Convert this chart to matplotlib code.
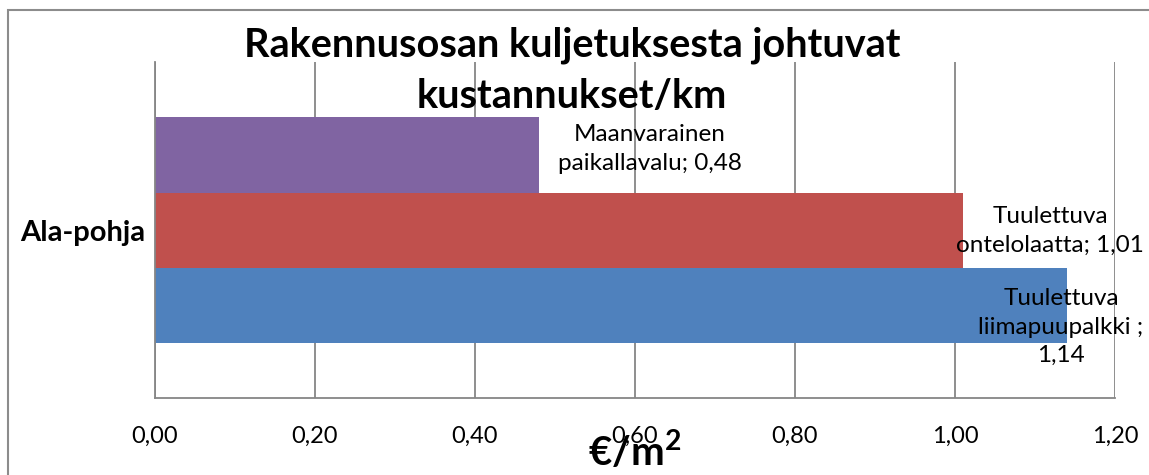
import matplotlib
matplotlib.use('Agg')
import matplotlib.pyplot as plt
from matplotlib.patches import Rectangle

plt.rcParams['font.family'] = ['Lato', 'DejaVu Sans']
plt.rcParams['mathtext.fontset'] = 'custom'
plt.rcParams['mathtext.rm'] = 'Lato'
plt.rcParams['mathtext.bf'] = 'Lato:bold'

title = 'Rakennusosan kuljetuksesta johtuvat\nkustannukset/km'
category = 'Ala-pohja'
# series drawn bottom to top
series_values = [1.14, 1.01, 0.48]
series_colors = ['#4F81BD', '#C0504D', '#8064A2']
label_texts = ['Tuulettuva\nliimapuupalkki ;\n1,14', 'Tuulettuva\nontelolaatta; 1,01', 'Maanvarainen\npaikallavalu; 0,48']
x_ticks = [0.0, 0.2, 0.4, 0.6, 0.8, 1.0, 1.2]

W, H = 1149, 475
fig = plt.figure(figsize=(W / 100, H / 100), dpi=100)

# chart border (runs off the right and bottom edges in the reference)
fig.add_artist(Rectangle((8 / W, -0.1), 1.2, 1 - 10 / H + 0.1, transform=fig.transFigure,
                         fill=False, edgecolor='#8c8c8c', linewidth=1.5))

ax = fig.add_axes([155 / W, 1 - 398 / H, (1115 - 155) / W, (398 - 62) / H])

bar_h = 75 / 336
for i, (val, col) in enumerate(zip(series_values, series_colors)):
    y = (i - 1) * bar_h
    ax.barh(y, val, height=bar_h, color=col, zorder=2)

# data labels, nudged like the Excel layout
offsets = [(-6, -22), (87, -1), (111, 6)]
for i, (val, txt) in enumerate(zip(series_values, label_texts)):
    y = (i - 1) * bar_h
    ax.annotate(txt, xy=(val, y), xytext=offsets[i], textcoords='offset pixels',
                ha='center', va='center', multialignment='center', fontsize=17.5,
                color='black', linespacing=1.45, zorder=3)

ax.set_xlim(0, 1.2)
ax.set_ylim(-0.5, 0.5)
ax.set_xticks(x_ticks)
ax.set_xticklabels(['{:.2f}'.format(t).replace('.', ',') for t in x_ticks], fontsize=17)
ax.set_yticks([0])
ax.set_yticklabels([category], fontsize=21, fontweight='bold')
ax.tick_params(length=0)
ax.tick_params(axis='x', pad=20)
ax.tick_params(axis='y', pad=7)
ax.grid(True, axis='x', color='#868686', linewidth=1.3, zorder=0)
ax.set_axisbelow(True)
for side in ['top', 'right']:
    ax.spines[side].set_visible(False)
for side in ['left', 'bottom']:
    ax.spines[side].set_color('#868686')
    ax.spines[side].set_linewidth(1.3)

fig.text(572 / W, 1 - 71 / H, title, ha='center', va='center', fontsize=28.5,
         fontweight='bold', linespacing=1.45)
fig.text(635 / W, 1 - 452 / H, r'€/m$^{\mathbf{2}}$', ha='center', va='center',
         fontsize=29, fontweight='bold')

fig.savefig('out.png', dpi=100)
